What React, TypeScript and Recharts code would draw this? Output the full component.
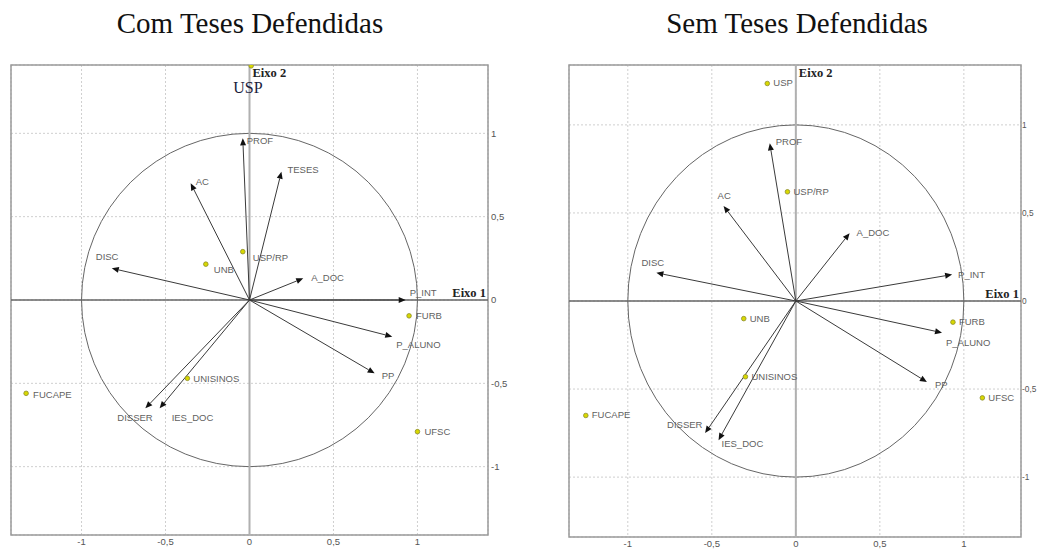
import React from 'react';
import { ScatterChart, Scatter, XAxis, YAxis, CartesianGrid, ReferenceLine, ReferenceArea } from 'recharts';

// ---- data ----
const tickValues = [-1, -0.5, 0, 0.5, 1];

const arrowsCom = [
  { name: 'PROF', x: -0.04, y: 0.97 },
  { name: 'AC', x: -0.35, y: 0.70 },
  { name: 'DISC', x: -0.82, y: 0.19 },
  { name: 'TESES', x: 0.19, y: 0.77 },
  { name: 'A_DOC', x: 0.32, y: 0.13 },
  { name: 'P_INT', x: 0.93, y: 0 },
  { name: 'P_ALUNO', x: 0.85, y: -0.22 },
  { name: 'PP', x: 0.745, y: -0.44 },
  { name: 'DISSER', x: -0.62, y: -0.65 },
  { name: 'IES_DOC', x: -0.535, y: -0.65 },
];

const pointsCom = [
  { name: 'USP', x: 0.01, y: 1.405 },
  { name: 'USP/RP', x: -0.04, y: 0.29 },
  { name: 'UNB', x: -0.26, y: 0.215 },
  { name: 'UNISINOS', x: -0.37, y: -0.47 },
  { name: 'FUCAPE', x: -1.33, y: -0.56 },
  { name: 'FURB', x: 0.95, y: -0.095 },
  { name: 'UFSC', x: 1.0, y: -0.79 },
];

const arrowsSem = [
  { name: 'PROF', x: -0.155, y: 0.895 },
  { name: 'AC', x: -0.43, y: 0.54 },
  { name: 'DISC', x: -0.83, y: 0.16 },
  { name: 'A_DOC', x: 0.32, y: 0.385 },
  { name: 'P_INT', x: 0.93, y: 0.15 },
  { name: 'P_ALUNO', x: 0.87, y: -0.18 },
  { name: 'PP', x: 0.78, y: -0.46 },
  { name: 'DISSER', x: -0.54, y: -0.75 },
  { name: 'IES_DOC', x: -0.46, y: -0.79 },
];

const pointsSem = [
  { name: 'USP', x: -0.17, y: 1.235 },
  { name: 'USP/RP', x: -0.05, y: 0.62 },
  { name: 'UNB', x: -0.31, y: -0.10 },
  { name: 'UNISINOS', x: -0.30, y: -0.43 },
  { name: 'FUCAPE', x: -1.25, y: -0.65 },
  { name: 'FURB', x: 0.935, y: -0.12 },
  { name: 'UFSC', x: 1.11, y: -0.55 },
];

// label placement (px from the mark), kept apart from the data
const offsetsCom: Record<string, [number, number]> = {
  PROF: [4, 6], AC: [5, 2], DISC: [-16, -8], TESES: [6, 1], A_DOC: [8, 3],
  P_INT: [4, -4], P_ALUNO: [4, 11], PP: [7, 6], DISSER: [-28, 13], IES_DOC: [12, 13],
  USP: [-18, 27], 'USP/RP': [10, 9], UNB: [8, 9], UNISINOS: [6, 4], FUCAPE: [7, 5],
  FURB: [7, 3], UFSC: [7, 3],
};

const offsetsSem: Record<string, [number, number]> = {
  PROF: [6, 2], AC: [-6, -7], DISC: [-15, -7], A_DOC: [7, 3], P_INT: [6, 3],
  P_ALUNO: [4, 13], PP: [8, 6], DISSER: [-38, -5], IES_DOC: [3, 7],
  USP: [6, 3], 'USP/RP': [6, 3], UNB: [6, 3], UNISINOS: [6, 3], FUCAPE: [6, 3],
  FURB: [6, 3], UFSC: [6, 3],
};

const sans = 'Arial, "Liberation Sans", sans-serif';
const serif = '"Liberation Serif", "Times New Roman", serif';
const fmt = (v: number) => String(v).replace('.', ',');

const arrowShape = (name: string, off: [number, number]) => (p: any) => {
  const { x1, y1, x2, y2 } = p;
  const a = Math.atan2(y2 - y1, x2 - x1);
  const L = 7, W = 3;
  const bx = x2 - L * Math.cos(a);
  const by = y2 - L * Math.sin(a);
  const pts = `${x2},${y2} ${bx - W * Math.sin(a)},${by + W * Math.cos(a)} ${bx + W * Math.sin(a)},${by - W * Math.cos(a)}`;
  return (
    <g>
      <line x1={x1} y1={y1} x2={bx} y2={by} stroke="#3a3a3a" strokeWidth={1} />
      <polygon points={pts} fill="#111" />
      <text x={x2 + off[0]} y={y2 + off[1]} fontSize={9.5} fontFamily={sans} fill="#5f5f5f">{name}</text>
    </g>
  );
};

const pointShape = (offsets: Record<string, [number, number]>, serifUsp: boolean) => (p: any) => {
  const { cx, cy, payload } = p;
  const off = offsets[payload.name] || [6, 3];
  const big = serifUsp && payload.name === 'USP';
  return (
    <g>
      <circle cx={cx} cy={cy} r={2.3} fill="#d8d800" stroke="#8c8c30" strokeWidth={0.8} />
      <text
        x={cx + off[0]}
        y={cy + off[1]}
        fontSize={big ? 16 : 9.5}
        fontFamily={big ? serif : sans}
        fill={big ? '#1c1c3c' : '#5f5f5f'}
      >
        {payload.name}
      </text>
    </g>
  );
};

const circleShape = (p: any) => (
  <ellipse
    cx={p.x + p.width / 2}
    cy={p.y + p.height / 2}
    rx={Math.abs(p.width) / 2}
    ry={Math.abs(p.height) / 2}
    fill="none"
    stroke="#666"
    strokeWidth={1}
  />
);

type PanelProps = {
  title: string;
  left: number;
  width: number;
  marginLeft: number;
  xAxisHeight: number;
  yAxisWidth: number;
  yTickSize: number;
  yTickMargin: number;
  xDomain: [number, number];
  yDomain: [number, number];
  arrows: { name: string; x: number; y: number }[];
  points: { name: string; x: number; y: number }[];
  offsets: Record<string, [number, number]>;
  serifUsp: boolean;
  titleCenter: number;
};

const Panel = (props: PanelProps) => {
  const { left, width, marginLeft, xAxisHeight, yAxisWidth, xDomain, yDomain, arrows, points, offsets } = props;
  return (
    <>
      <div style={{ position: 'absolute', left: props.titleCenter - 200, top: 9, width: 400, textAlign: 'center', fontFamily: serif, fontSize: 29, lineHeight: 1, color: '#111' }}>
        {props.title}
      </div>
      <div style={{ position: 'absolute', left, top: 40 }}>
        <ScatterChart width={width} height={509} margin={{ top: 25, right: 0, bottom: 0, left: marginLeft }}>
          <CartesianGrid stroke="#cfcfcf" strokeDasharray="2 2" />
          <XAxis
            type="number"
            dataKey="x"
            domain={xDomain}
            allowDataOverflow
            ticks={tickValues}
            tickFormatter={fmt}
            height={xAxisHeight}
            axisLine={false}
            tickLine={false}
            tickSize={0}
            tickMargin={3}
            tick={{ fontSize: 9.5, fill: '#555', fontFamily: sans }}
          />
          <YAxis
            type="number"
            dataKey="y"
            orientation="right"
            domain={yDomain}
            allowDataOverflow
            ticks={tickValues}
            tickFormatter={fmt}
            width={yAxisWidth}
            axisLine={false}
            tickLine={false}
            tickSize={0}
            tickMargin={props.yTickMargin}
            tick={{ fontSize: props.yTickSize, fill: '#555', fontFamily: sans, textAnchor: 'start' }}
          />
          <ReferenceArea x1={xDomain[0]} x2={xDomain[1]} y1={yDomain[0]} y2={yDomain[1]} fill="none" stroke="#9a9a9a" strokeWidth={1.5} ifOverflow="visible" />
          <ReferenceArea x1={-1} x2={1} y1={-1} y2={1} shape={circleShape} ifOverflow="visible" />
          <ReferenceLine
            x={0}
            stroke="#b0b0b0"
            strokeWidth={2}
            label={{
              content: (lp: any) => (
                <text x={lp.viewBox.x + 3} y={lp.viewBox.y + 12} fontFamily={serif} fontWeight="bold" fontSize={12.5} fill="#222">Eixo 2</text>
              ),
            }}
          />
          <ReferenceLine
            y={0}
            stroke="#666"
            strokeWidth={1.3}
            label={{
              content: (lp: any) => (
                <text x={lp.viewBox.x + lp.viewBox.width - 2} y={lp.viewBox.y - 3} textAnchor="end" fontFamily={serif} fontWeight="bold" fontSize={12.5} fill="#222">Eixo 1</text>
              ),
            }}
          />
          {arrows.map((a) => (
            <ReferenceLine
              key={a.name}
              segment={[{ x: 0, y: 0 }, { x: a.x, y: a.y }]}
              ifOverflow="visible"
              shape={arrowShape(a.name, offsets[a.name] || [5, 3])}
            />
          ))}
          <Scatter data={points} isAnimationActive={false} shape={pointShape(offsets, props.serifUsp)} />
        </ScatterChart>
      </div>
    </>
  );
};

export default function App() {
  return (
    <div style={{ position: 'absolute', left: 0, top: 0, width: 1037, height: 549, background: '#fff', overflow: 'hidden' }}>
      <Panel
        title="Com Teses Defendidas"
        titleCenter={250}
        left={0}
        width={528}
        marginLeft={11}
        xAxisHeight={14}
        yAxisWidth={40}
        yTickSize={9.5}
        yTickMargin={3}
        xDomain={[-1.42, 1.42]}
        yDomain={[-1.41, 1.41]}
        arrows={arrowsCom}
        points={pointsCom}
        offsets={offsetsCom}
        serifUsp
      />
      <Panel
        title="Sem Teses Defendidas"
        titleCenter={797}
        left={560}
        width={477}
        marginLeft={9}
        xAxisHeight={12}
        yAxisWidth={16}
        yTickSize={8.3}
        yTickMargin={1}
        xDomain={[-1.35, 1.34]}
        yDomain={[-1.34, 1.34]}
        arrows={arrowsSem}
        points={pointsSem}
        offsets={offsetsSem}
        serifUsp={false}
      />
    </div>
  );
}
